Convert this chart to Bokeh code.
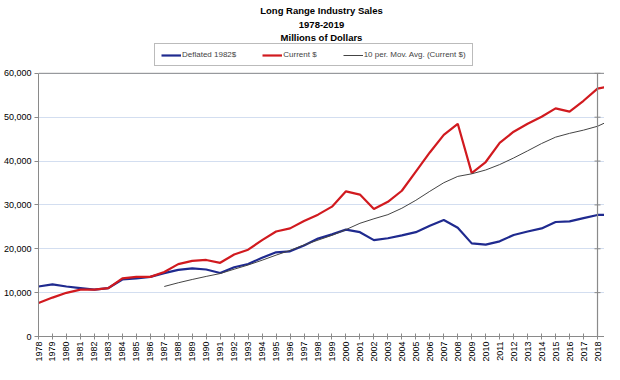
import math
from bokeh.plotting import figure
from bokeh.models import (Legend, LegendItem, FixedTicker, NumeralTickFormatter,
                          Span, Range1d, Title)
from bokeh.embed import file_html
from bokeh.resources import INLINE

# ---- data (millions of dollars) ----
years = list(range(1978, 2020))
tick_years = list(range(1978, 2019))
y_ticks = [0, 10000, 20000, 30000, 40000, 50000, 60000]

deflated_1982 = [11400, 11900, 11400, 11050, 10700, 11050, 13000, 13250, 13600, 14450,
                 15200, 15550, 15270, 14470, 15780, 16520, 17960, 19200, 19420, 20730,
                 22320, 23280, 24370, 23780, 21970, 22400, 23060, 23780, 25240, 26550,
                 24800, 21230, 20950, 21700, 23150, 23930, 24650, 26110, 26250, 26990,
                 27710, 27780]

current_dollars = [7640, 8870, 9960, 10700, 10700, 11050, 13250, 13600, 13600, 14700,
                   16500, 17240, 17450, 16800, 18700, 19790, 21970, 23930, 24650, 26330,
                   27780, 29600, 33100, 32360, 29090, 30700, 33230, 37600, 41960, 45970,
                   48500, 37240, 39780, 44140, 46690, 48500, 50110, 52000, 51280, 53740,
                   56510, 57090]

ma_years = list(range(1987, 2020))
moving_avg = [11400, 12250, 13000, 13700, 14350, 15340, 16300, 17390, 18550, 19640,
              20880, 21970, 23060, 24370, 25810, 26840, 27780, 29240, 31050, 33100,
              35060, 36500, 37090, 37960, 39200, 40700, 42330, 44000, 45450, 46320,
              47050, 47930, 49400]

title_lines = ["Long Range Industry Sales", "1978-2019", "Millions of Dollars"]

FONT = "Liberation Sans"
GRAY = "#8a8a8a"

p = figure(width=604, height=364, output_backend="svg", toolbar_location=None,
           title=None,
           x_range=Range1d(1978, 2018.5), y_range=Range1d(0, 66800),
           min_border_right=0, min_border_left=4, min_border_top=2, min_border_bottom=0)
p.outline_line_color = None

# titles: last added is outermost
for i, line in enumerate(reversed(title_lines)):
    p.add_layout(Title(text=line, align="center", text_font=FONT, text_font_size="9.5px",
                       text_font_style="bold", text_color="black",
                       standoff=(5 if i == len(title_lines) - 1 else 2), offset=0), "above")

r_blue = p.line(years, deflated_1982, line_color="#1f2a8f", line_width=2.2)
r_red = p.line(years, current_dollars, line_color="#d11a1f", line_width=2.2)
r_ma = p.line(ma_years, moving_avg, line_color="#444444", line_width=1)

# plot-area top border at the highest tick
p.add_layout(Span(location=y_ticks[-1], dimension="width", line_color=GRAY, line_width=1))
# vertical axis line drawn at 2018 with tick marks
p.segment(x0=[tick_years[-1]], y0=[y_ticks[0]], x1=[tick_years[-1]], y1=[y_ticks[-1]],
          line_color=GRAY, line_width=1.2)
p.scatter([tick_years[-1]] * len(y_ticks), y_ticks, marker="dash", size=6,
          line_color=GRAY, line_width=1)

legend = Legend(items=[
    LegendItem(label="Deflated 1982$", renderers=[r_blue]),
    LegendItem(label="Current $", renderers=[r_red]),
    LegendItem(label="10 per. Mov. Avg. (Current $)", renderers=[r_ma]),
], orientation="horizontal", location=(116, 270))
legend.label_text_font = FONT
legend.label_text_font_size = "8px"
legend.glyph_width = 20
legend.glyph_height = 8
legend.label_standoff = 1
legend.spacing = 26
legend.padding = 6
legend.margin = 0
legend.label_height = 8
legend.border_line_color = "#777777"
legend.border_line_width = 1
legend.background_fill_alpha = 1
p.add_layout(legend)

p.xgrid.grid_line_color = None
p.ygrid.grid_line_color = "#d3def0"
p.ygrid.grid_line_width = 1

p.xaxis.ticker = FixedTicker(ticks=tick_years)
p.xaxis.major_label_orientation = math.pi / 2
p.xaxis.major_tick_in = 3
p.xaxis.major_tick_out = 3
p.xaxis.minor_tick_line_color = None
p.yaxis.ticker = FixedTicker(ticks=y_ticks)
p.yaxis.formatter = NumeralTickFormatter(format="0,0")
p.yaxis.bounds = (y_ticks[0], y_ticks[-1])
p.yaxis.major_tick_in = 0
p.yaxis.major_tick_out = 4
p.yaxis.minor_tick_line_color = None
for ax in (p.xaxis, p.yaxis):
    ax.axis_line_color = GRAY
    ax.major_tick_line_color = GRAY
    ax.major_label_text_font = FONT
    ax.major_label_text_font_size = "9px"
    ax.major_label_text_color = "black"
p.xaxis.major_label_standoff = 2
p.yaxis.major_label_standoff = 3

open("out.html", "w").write(file_html(p, INLINE))
